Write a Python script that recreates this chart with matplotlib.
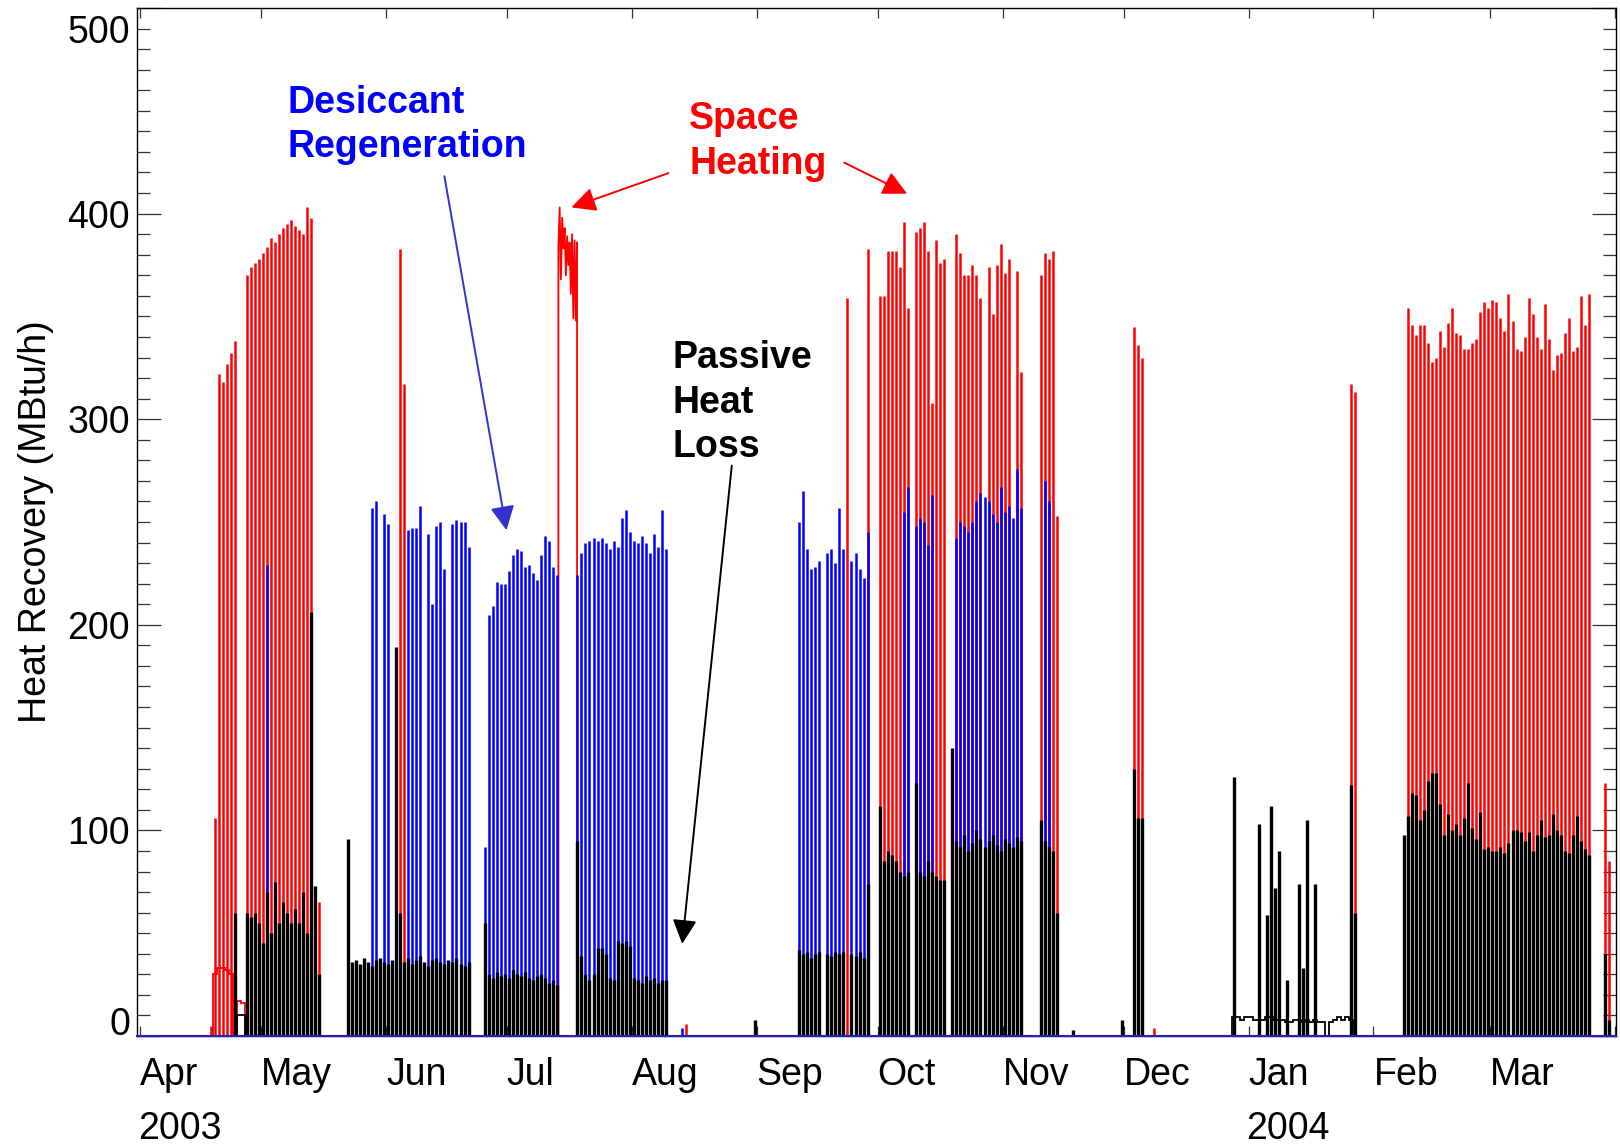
import numpy as np
import pandas as pd
import matplotlib
matplotlib.use('Agg')
import matplotlib.pyplot as plt
from matplotlib.ticker import MultipleLocator
from matplotlib.transforms import ScaledTranslation, blended_transform_factory

plt.rcParams['font.family'] = ['Liberation Sans', 'DejaVu Sans']

START = pd.Timestamp('2003-04-01')
END = pd.Timestamp('2004-04-01')

# daily peak heat recovery (MBtu/h); each run = (first day, values for consecutive days)
heat_runs = [
    ('2003-04-18', [5, 106, 322, 318, 327, 332, 338]),
    ('2003-04-27', [370, 374, 376, 378, 381, 384, 388, 386, 390, 393, 395, 397, 394, 392, 390, 403, 398]),
    ('2003-05-15', [65]),
    ('2003-06-04', [383, 317]),
    ('2003-08-14', [6]),
    ('2003-09-23', [359]),
    ('2003-09-28', [383]),
    ('2003-10-01', [360, 360, 382, 382, 382, 374, 396, 354, 0, 391, 393, 396, 382, 308, 387, 376, 378,
                    0, 0, 390, 381, 370, 370, 375, 370, 359, 0, 374, 351, 375, 385, 371, 378, 0, 372, 323]),
    ('2003-11-10', [370, 381, 378, 382, 253]),
    ('2003-12-03', [345, 336, 330]),
    ('2003-12-08', [4]),
    ('2004-01-26', [317, 313]),
    ('2004-02-09', [354, 346, 341, 346, 346, 337, 328, 330, 343, 335, 347, 354, 342, 341, 334, 334, 337,
                    339, 352, 357, 354, 358, 357, 349, 343, 361, 348, 334, 333, 340, 359, 351, 340, 334,
                    356, 339, 324, 331, 332, 342, 349, 333, 335, 360, 346, 361]),
    ('2004-03-29', [123, 85]),
]
# continuous space heating in mid July (readings along the top of the trace)
heat_jul_start, heat_jul_end = '2003-07-13 19:00', '2003-07-18 10:00'
heat_jul = [385, 403, 368, 398, 383, 393, 370, 389, 375, 386, 361, 390, 349, 387, 348, 386]
heat_base_runs = [
    ('2003-04-19', [30, 33, 33, 32, 30]),
    ('2003-04-25', [17, 16]),
]

desiccant_runs = [
    ('2003-05-02', [229]),
    ('2003-05-28', [257, 260, 0, 254, 249]),
    ('2003-06-06', [246, 247, 247, 258, 0, 244, 210, 248, 250, 227, 0, 249, 251, 250, 250, 238]),
    ('2003-06-25', [92, 205, 209, 221, 220, 220, 226, 234, 237, 236, 228, 229, 225, 222, 234, 243, 241, 228, 224]),
    ('2003-07-18', [224, 235, 240, 241, 242, 241, 242, 240, 237, 241, 238, 252, 256, 245, 241, 240, 243,
                    240, 235, 244, 238, 256, 237]),
    ('2003-08-13', [4]),
    ('2003-09-11', [250, 265, 237, 227, 228, 231, 0, 235, 237, 230, 257, 237, 0, 231, 235, 227, 223, 245]),
    ('2003-10-07', [255, 267, 0, 248, 252, 250, 239, 263]),
    ('2003-10-20', [242, 250, 248, 245, 250, 260, 264, 262, 260, 254, 250, 267, 255, 258, 252, 276, 257]),
    ('2003-11-11', [270, 260]),
]

passive_runs = [
    ('2003-04-24', [60]),
    ('2003-04-27', [60, 58, 60, 55, 45, 70, 50, 75, 55, 65, 60, 55, 62, 55, 70, 50, 206, 73, 30]),
    ('2003-05-22', [96, 36, 37, 35, 38, 36, 34, 37, 38, 36, 35, 37, 189, 60, 36, 38, 35, 37, 39, 36,
                    34, 37, 38, 36, 35, 37, 36, 38, 35, 34, 36]),
    ('2003-06-25', [55, 30, 28, 31, 29, 30, 28, 32, 30, 29, 31, 28, 27, 29, 30, 28, 26, 27, 25]),
    ('2003-07-18', [95, 39, 30, 27, 30, 43, 43, 40, 28, 27, 46, 45, 46, 44, 28, 27, 26, 29, 27, 28, 26, 27, 27]),
    ('2003-08-31', [8]),
    ('2003-09-11', [42, 40, 41, 38, 40, 41, 0, 40, 39, 41, 40, 41, 0, 40, 39, 41, 38, 74]),
    ('2003-10-01', [112, 85, 90, 88, 85, 80, 78, 80, 0, 123, 80, 78, 85, 80, 78, 76, 76, 0, 140, 95,
                    92, 98, 90, 94, 100, 96, 92, 95, 98, 93, 90, 96, 94, 92, 97, 95]),
    ('2003-11-10', [105, 95, 92, 90, 60]),
    ('2003-11-18', [3]),
    ('2003-11-30', [8]),
    ('2003-12-03', [130, 106, 106]),
    ('2003-12-28', [126]),
    ('2004-01-03', [103, 0, 59, 112, 72, 90, 0, 27, 0, 0, 74, 33, 105, 0, 74]),
    ('2004-01-26', [122, 60]),
    ('2004-02-08', [98, 107, 118, 117, 105, 110, 124, 128, 128, 113, 98, 108, 100, 103, 98, 106, 123,
                    101, 96, 109, 91, 92, 90, 90, 92, 89, 94, 100, 100, 99, 95, 99, 90, 98, 105, 97,
                    98, 108, 100, 98, 90, 89, 98, 107, 95, 91, 88]),
    ('2004-03-29', [40, 8]),
]
passive_base_runs = [
    ('2003-04-25', [10, 10]),
    ('2003-12-28', [9, 9, 8, 9, 9, 8, 8, 8, 9, 9, 8, 8, 8, 7, 7, 8, 8, 7, 8, 7, 8, 7, 7]),
    ('2004-01-21', [7, 8, 9, 8, 9, 8]),
]

y_ticks = [0, 100, 200, 300, 400, 500]


def day_of(date):
    return (pd.Timestamp(date) - START) / pd.Timedelta(days=1)


def spikes(ax, runs, color, lw, z):
    for start, vals in runs:
        vals = np.asarray(vals, float)
        x = day_of(start) + np.arange(len(vals)) + 0.5
        keep = vals > 0
        ax.vlines(x[keep], 0, vals[keep], colors=color, lw=lw, zorder=z)


def bases(ax, runs, color, z):
    for start, vals in runs:
        edges = day_of(start) + np.arange(len(vals) + 1)
        ax.stairs(vals, edges, baseline=0, color=color, lw=1.3, zorder=z)


fig = plt.figure(figsize=(16.2, 11.45), dpi=100)
ax = fig.add_axes([0.0846, 0.0952, 0.9130, 0.8978])

# space heating
spikes(ax, heat_runs, '#ff0000', 1.8, 2)
bases(ax, heat_base_runs, '#ff0000', 2)
t_jul = pd.date_range(heat_jul_start, heat_jul_end, periods=len(heat_jul))
x_jul = np.array([day_of(t) for t in t_jul])
ax.plot(np.r_[x_jul[0], x_jul, x_jul[-1]], np.r_[0, heat_jul, 0], color='#ff0000', lw=1.3, zorder=2)

# desiccant regeneration
spikes(ax, desiccant_runs, '#0000ff', 1.8, 3)

# passive heat loss
spikes(ax, passive_runs, 'black', 2.4, 4)
bases(ax, passive_base_runs, 'black', 4)

ax.axhline(0, color='#2020c0', lw=1.5, clip_on=False, zorder=5)

# axes
ax.set_xlim(-0.75, day_of(END) + 0.2)
ax.set_ylim(0, 500)

months = pd.date_range(START, END, freq='MS')
month_days = [day_of(m) for m in months]
month_labels = [m.strftime('%b') for m in months[:-1]] + ['']
ax.set_xticks(month_days, month_labels, ha='left')
ax.set_yticks(y_ticks, [str(v) for v in y_ticks])
ax.yaxis.set_minor_locator(MultipleLocator(10))

ax.tick_params(axis='both', which='both', direction='in', color='#333333', width=0.9,
               top=True, right=True, labelsize=27)
ax.tick_params(axis='y', which='major', length=17, pad=5)
ax.tick_params(axis='y', which='minor', length=9.5)
ax.tick_params(axis='x', which='major', length=7, pad=15)
for sp in ax.spines.values():
    sp.set_linewidth(1.0)

# pull the end labels inside the frame
ylabs = ax.get_yticklabels()
ylabs[0].set_transform(ylabs[0].get_transform() + ScaledTranslation(0, 0.15, fig.dpi_scale_trans))
ylabs[-1].set_transform(ylabs[-1].get_transform() + ScaledTranslation(0, -0.21, fig.dpi_scale_trans))

trans = blended_transform_factory(ax.transData, ax.transAxes)
ax.text(day_of('2003-04-01') - 0.5, -0.0905, '2003', transform=trans, fontsize=27, ha='left', va='center')
ax.text(day_of('2004-01-01') - 0.5, -0.0905, '2004', transform=trans, fontsize=27, ha='left', va='center')

ax.set_ylabel('Heat Recovery (MBtu/h)', fontsize=27)
ax.yaxis.set_label_coords(-0.056, 0.5)

# annotations
ax.text(36.5, 443, 'Desiccant\nRegeneration', color='#0000ff', fontsize=27, fontweight='bold',
        ha='left', va='center', linespacing=1.3)
ax.text(136.2, 435, 'Space\nHeating', color='#ff0000', fontsize=27, fontweight='bold',
        ha='left', va='center', linespacing=1.3)
ax.text(132.2, 308, 'Passive\nHeat\nLoss', color='black', fontsize=27, fontweight='bold',
        ha='left', va='center', linespacing=1.3)

arrow = dict(arrowstyle='-|>', lw=1.4, mutation_scale=37, shrinkA=0, shrinkB=0)
ax.annotate('', xy=(90.9, 246), xytext=(75.5, 418.2), arrowprops=dict(arrow, color='#3333cc'))
ax.annotate('', xy=(107.0, 403), xytext=(131.1, 419.7), arrowprops=dict(arrow, color='#ff0000'))
ax.annotate('', xy=(190.3, 409.7), xytext=(174.7, 424.8), arrowprops=dict(arrow, color='#ff0000'))
ax.annotate('', xy=(134.5, 44.8), xytext=(146.8, 277.4), arrowprops=dict(arrow, color='black'))

fig.savefig('out.png', dpi=100)
